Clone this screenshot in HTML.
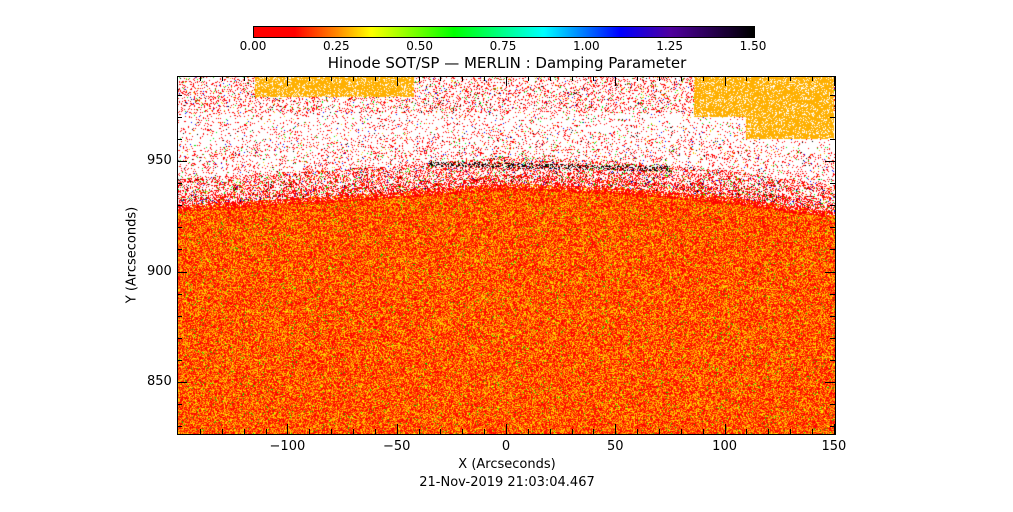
<!DOCTYPE html>
<html><head><meta charset="utf-8"><style>
body{margin:0;background:#fff;width:1013px;height:512px;overflow:hidden;position:relative;font-family:"DejaVu Sans","Liberation Sans",sans-serif;color:#000}
.t{position:absolute;font-size:13px;white-space:nowrap;line-height:1}
</style></head><body>
<canvas id="cb" width="500" height="10" style="position:absolute;left:253px;top:26px;border:1px solid #000"></canvas>
<div id="cbl"></div>
<div class="t" style="left:507px;top:56px;transform:translateX(-50%);font-size:15px">Hinode SOT/SP — MERLIN : Damping Parameter</div>
<canvas id="hm" width="658" height="358" style="position:absolute;left:177px;top:76px"></canvas>
<svg id="ax" width="1013" height="512" style="position:absolute;left:0;top:0"></svg>
<div class="t" style="left:507px;top:458px;transform:translateX(-50%)">X (Arcseconds)</div>
<div class="t" style="left:132px;top:255px;transform:translate(-50%,-50%) rotate(-90deg)">Y (Arcseconds)</div>
<div class="t" style="left:507px;top:476px;transform:translateX(-50%)">21-Nov-2019 21:03:04.467</div>
<script>
// data arrays
const cbTicks=["0.00","0.25","0.50","0.75","1.00","1.25","1.50"];
const cbVals=[0,0.25,0.5,0.75,1.0,1.25,1.5];
const xTicks=[-100,-50,0,50,100,150];
const yTicks=[850,900,950];
const limbX=[-150,-100,-50,0,50,100,150];
const limbY=[930,933,936,940,938,934,927];
const patchX0=[-115,86,110];
const patchX1=[-42,150,150];
const patchY0=[979,970,960];
const patchY1=[989,989,970];
const xMin=-150.5,xMax=150.5,yMin=826.4,yMax=988.6;
const PL=177,PT=76,PW=658,PH=358;
function sx(v){return PL+(v-xMin)/(xMax-xMin)*PW}
function sy(v){return PT+(yMax-v)/(yMax-yMin)*PH}
// colormap
const cmS=[0,0.12,0.25,0.35,0.6,0.87,1.1,1.25,1.5];
const cmC=[[255,0,0],[255,0,0],[255,140,0],[255,255,0],[0,255,0],[0,255,255],[0,0,255],[80,0,160],[0,0,0]];
function cmap(v){for(let i=1;i<cmS.length;i++){if(v<=cmS[i]){const f=(v-cmS[i-1])/(cmS[i]-cmS[i-1]);const a=cmC[i-1],b=cmC[i];return [a[0]+(b[0]-a[0])*f,a[1]+(b[1]-a[1])*f,a[2]+(b[2]-a[2])*f]}}return [0,0,0]}
const cb=document.getElementById('cb'),cc=cb.getContext('2d');
for(let i=0;i<500;i++){const c=cmap(i/499*1.5);cc.fillStyle=`rgb(${c[0]|0},${c[1]|0},${c[2]|0})`;cc.fillRect(i,0,1,10)}
const cbl=document.getElementById('cbl');
cbTicks.forEach((t,i)=>{const d=document.createElement('div');d.className='t';


d.style.left=(253+cbVals[i]/1.5*500)+'px';d.style.top='40px';d.style.transform='translateX(-50%)';d.style.fontSize='12px';d.textContent=t;cbl.appendChild(d)});
// heatmap texture
let s=12345;function rnd(){s|=0;s=s+0x6D2B79F5|0;let t=Math.imul(s^s>>>15,1|s);t=t+Math.imul(t^t>>>7,61|t)^t;return((t^t>>>14)>>>0)/4294967296}
function limb(x){for(let i=1;i<limbX.length;i++){if(x<=limbX[i]){const f=(x-limbX[i-1])/(limbX[i]-limbX[i-1]);return limbY[i-1]+(limbY[i]-limbY[i-1])*f}}return limbY[limbY.length-1]}
const hm=document.getElementById('hm'),hc=hm.getContext('2d');const img=hc.createImageData(PW,PH);const D=img.data;
const body=[[255,0,0],[255,0,0],[255,0,0],[255,20,0],[255,60,0],[255,100,0],[255,130,0],[255,160,0],[255,190,0],[255,230,0]];
for(let py=0;py<PH;py++){const yv=yMax-(py+0.5)/PH*(yMax-yMin);
for(let px=0;px<PW;px++){const xv=xMin+(px+0.5)/PW*(xMax-xMin);const k=(py*PW+px)*4;let c=[255,255,255];
let inP=false;for(let j=0;j<patchX0.length;j++){if(xv>=patchX0[j]&&xv<=patchX1[j]&&yv>=patchY0[j]&&yv<=patchY1[j]){inP=true}}
const r=rnd();
if(inP){c=r<0.8?[255,176,0]:[255,255,255]}
else{const d=yv-limb(xv);
if(d<0){const q=rnd();if(d>-3&&q<0.5)c=[255,0,0];else if(q<0.015)c=[0,220,0];else c=body[Math.floor(rnd()*body.length)];if(d>-2&&r<0.15)c=[255,255,255]}
else{let p=d<4?0.55:d<12?0.4:d<25?0.15:0.1;if(yv>972)p=0.22;
if(r<p){const q=rnd();c=q<0.8?[255,0,0]:q<0.86?[255,200,0]:q<0.93?[0,230,0]:q<0.96?[0,0,255]:[0,0,0]}
if(Math.abs(yv-948+xv*0.02)<1.2&&xv>-35&&xv<75&&rnd()<0.3)c=[0,0,0];}}
D[k]=c[0];D[k+1]=c[1];D[k+2]=c[2];D[k+3]=255}}
hc.putImageData(img,0,0);
// axes
const ax=document.getElementById('ax');const NS='http://www.w3.org/2000/svg';
function ln(x1,y1,x2,y2,n){const l=document.createElementNS(NS,'line');l.setAttribute('x1',x1);l.setAttribute('y1',y1);l.setAttribute('x2',x2);l.setAttribute('y2',y2);l.setAttribute('stroke','#000');l.setAttribute('stroke-width','1');


ax.appendChild(l)}
const fr=document.createElementNS(NS,'rect');fr.setAttribute('x',PL+0.5);fr.setAttribute('y',PT+0.5);fr.setAttribute('width',PW);fr.setAttribute('height',PH);fr.setAttribute('fill','none');fr.setAttribute('stroke','#000');


ax.appendChild(fr);
for(let v=-140;v<=150;v+=10){const x=Math.round(sx(v))+0.5;const L=v%50===0?10:5;ln(x,PT+PH,x,PT+PH-L,'x-tick');ln(x,PT,x,PT+L,'x-tick')}
for(let v=830;v<=980;v+=10){const y=Math.round(sy(v))+0.5;const L=v%50===0?10:5;ln(PL,y,PL+L,y,'y-tick');ln(PL+PW,y,PL+PW-L,y,'y-tick')}
xTicks.forEach(v=>{const d=document.createElement('div');d.className='t';


d.style.left=sx(v)+'px';d.style.top='440px';d.style.transform='translateX(-50%)';d.textContent=v<0?'−'+(-v):v;document.body.appendChild(d)});
yTicks.forEach(v=>{const d=document.createElement('div');d.className='t';


d.style.left='147px';d.style.top=(sy(v)-7)+'px';d.textContent=v;document.body.appendChild(d)});
</script>
</body></html>
